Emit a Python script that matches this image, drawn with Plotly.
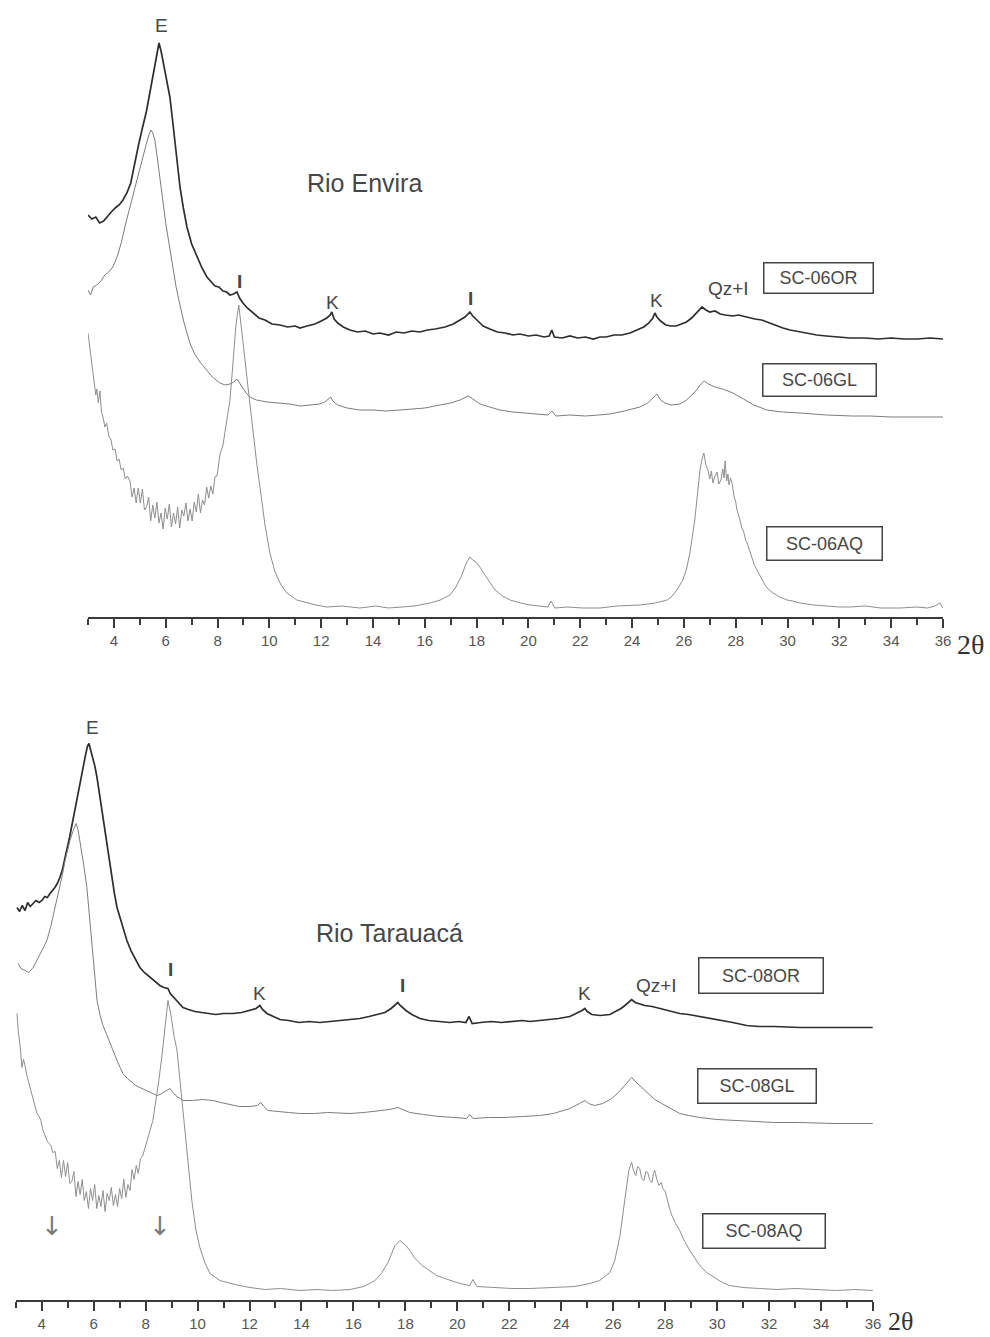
import plotly.graph_objects as go

W, H = 990, 1337           # drawing coordinates (pixels)
FIG_W, FIG_H = 998, 1337   # figure size in CSS pixels

# ---------------- Rio Envira (SC-06) ----------------
tt_06or = [3.00, 3.15, 3.30, 3.45, 3.60, 3.75, 3.90, 4.05, 4.20, 4.35, 4.50, 4.65, 4.80, 4.95, 5.10,
           5.25, 5.40, 5.55, 5.65, 5.74, 5.82, 5.92, 6.05, 6.16, 6.25, 6.35, 6.45, 6.55, 6.68,
           6.82, 7.00, 7.20, 7.40, 7.59, 7.75, 7.90, 8.05, 8.21, 8.35, 8.48, 8.62, 8.75, 8.85,
           8.98, 9.15, 9.37, 9.60, 9.83, 10.10, 10.41, 10.70, 11.00, 11.18, 11.45, 11.76, 12.00,
           12.22, 12.35, 12.41, 12.50, 12.64, 12.85, 13.11, 13.40, 13.70, 14.00, 14.27, 14.60,
           14.90, 15.20, 15.50, 15.81, 16.10, 16.40, 16.78, 17.10, 17.36, 17.55, 17.74, 17.85,
           18.05, 18.25, 18.51, 18.80, 19.10, 19.40, 19.67, 20.00, 20.30, 20.60, 20.80, 20.90,
           21.00, 21.30, 21.60, 21.90, 22.20, 22.50, 22.76, 23.00, 23.30, 23.60, 23.92, 24.20,
           24.45, 24.65, 24.80, 24.88, 24.96, 25.10, 25.30, 25.50, 25.70, 25.90, 26.10, 26.30,
           26.50, 26.70, 26.85, 27.00, 27.20, 27.40, 27.60, 27.89, 28.10, 28.40, 28.74, 29.00,
           29.20, 29.50, 29.82, 30.10, 30.50, 30.80, 31.13, 31.50, 32.00, 32.41, 33.00, 33.50,
           34.00, 34.50, 35.00, 35.50, 36.00]
i_06or = [402, 398, 400, 394, 396, 401, 405, 409, 412, 417, 424, 434, 455, 472, 489,
          505, 526, 548, 563, 574, 566, 553, 535, 520, 500, 477, 452, 430, 409,
          390, 373, 360, 349, 340, 335, 331, 330, 326, 325, 322, 323, 325, 319,
          314, 309, 304, 299, 297, 293, 292, 290, 291, 289, 291, 293, 296,
          299, 302, 305, 298, 294, 290, 287, 285, 286, 283, 284, 282,
          285, 284, 286, 285, 287, 288, 290, 293, 297, 300, 305, 301,
          296, 291, 288, 285, 284, 282, 283, 281, 282, 280, 281, 287,
          280, 279, 281, 279, 280, 278, 280, 280, 282, 282, 284, 287,
          290, 294, 299, 304, 300, 296, 292, 291, 291, 293, 295, 299,
          304, 310, 307, 305, 306, 303, 302, 301, 302, 300, 298, 297,
          295, 292, 289, 287, 285, 283, 282, 281, 280, 279, 279, 278,
          279, 278, 278, 279, 278]

tt_06gl = [3.00, 3.10, 3.20, 3.34, 3.50, 3.65, 3.80, 3.96, 4.15, 4.31, 4.45, 4.62, 4.80, 5.00, 5.12,
           5.24, 5.35, 5.43, 5.50, 5.58, 5.68, 5.78, 5.90, 6.01, 6.15, 6.28, 6.40, 6.55, 6.70,
           6.93, 7.10, 7.32, 7.45, 7.59, 7.80, 8.09, 8.30, 8.48, 8.62, 8.75, 8.85, 8.98, 9.10,
           9.25, 9.50, 9.91, 10.30, 10.79, 11.20, 11.68, 11.95, 12.14, 12.30, 12.37, 12.45, 12.64,
           13.00, 13.49, 14.00, 14.50, 15.04, 15.50, 16.00, 16.58, 17.00, 17.36, 17.67, 17.85,
           18.13, 18.50, 18.90, 19.40, 19.90, 20.40, 20.75, 20.90, 21.06, 21.60, 22.20, 22.70,
           23.14, 23.70, 24.30, 24.60, 24.80, 24.96, 25.10, 25.27, 25.50, 25.85, 26.10, 26.43,
           26.60, 26.78, 26.95, 27.20, 27.50, 27.89, 28.30, 28.70, 29.20, 29.80, 30.48, 31.50,
           32.50, 33.18, 34.00, 35.00, 36.00]
i_06gl = [327, 322, 330, 332, 336, 342, 345, 350, 362, 377, 393, 410, 430, 450, 462,
          472, 482, 487, 484, 477, 458, 437, 413, 392, 370, 350, 330, 312, 295,
          274, 264, 255, 251, 247, 240, 234, 232, 233, 235, 238, 234, 229, 224,
          220, 217, 215, 214, 213, 211, 212, 213, 215, 218, 220, 216, 212,
          209, 207, 207, 206, 207, 208, 209, 212, 214, 217, 221, 218,
          213, 210, 207, 205, 204, 203, 202, 206, 201, 202, 201, 202,
          203, 206, 210, 214, 219, 223, 217, 214, 212, 213, 217, 225,
          231, 236, 233, 230, 228, 224, 218, 212, 207, 205, 204, 202,
          201, 201, 200, 200, 200]

tt_06aq = [3.00, 3.08, 3.15, 3.22, 3.30, 3.34, 3.40, 3.46, 3.52, 3.58, 3.65, 3.72, 3.81, 3.88, 3.96,
           4.05, 4.12, 4.20, 4.28, 4.36, 4.44, 4.52,
           4.62, 4.70, 4.78, 4.86, 4.94, 5.02, 5.10, 5.18, 5.26, 5.34, 5.42, 5.50, 5.58, 5.66,
           5.74, 5.82, 5.90, 5.98, 6.06, 6.14, 6.22, 6.30, 6.38, 6.46, 6.54, 6.62, 6.70, 6.78,
           6.86, 6.94, 7.02, 7.10, 7.18, 7.26, 7.34, 7.42, 7.50, 7.58, 7.66, 7.74, 7.82, 7.90,
           7.98, 8.09, 8.21, 8.36, 8.48, 8.59, 8.71, 8.82, 8.94, 9.06, 9.21, 9.37, 9.52, 9.68,
           9.83, 10.02, 10.22, 10.45, 10.68, 11.06, 11.45, 11.80, 12.22, 12.80, 13.49, 14.10,
           14.60, 15.04, 15.60, 16.20, 16.60, 16.97, 17.20, 17.43, 17.60, 17.74, 17.85, 17.97,
           18.15, 18.32, 18.50, 18.71, 19.00, 19.29, 19.70, 20.06, 20.40, 20.75, 20.87, 21.02,
           21.50, 22.10, 22.76, 23.40, 24.30, 24.90, 25.35, 25.55, 25.73, 25.96, 26.10, 26.23,
           26.42, 26.62, 26.70, 26.77, 26.85, 26.93, 27.00, 27.06, 27.12, 27.20, 27.28, 27.35,
           27.43, 27.50, 27.55, 27.59, 27.65, 27.70, 27.74, 27.80, 27.86, 27.93, 28.00, 28.05,
           28.12, 28.18, 28.24, 28.32, 28.38, 28.44, 28.52, 28.63, 28.72, 28.82, 28.95, 29.05,
           29.13, 29.25, 29.44, 29.70, 29.98, 30.20, 30.48, 31.00, 31.50, 32.00, 32.41, 33.00,
           33.60, 34.34, 35.00, 35.40, 35.69, 35.88, 36.00]
i_06aq = [284, 268, 257, 240, 222, 228, 214, 226, 205, 200, 190, 194, 180, 178, 167,
          168, 156, 158, 147, 149, 138, 141,
          136, 120, 129, 114, 129, 114, 128, 107, 110, 120, 96, 112, 99, 115,
          94, 104, 88, 109, 98, 113, 90, 104, 93, 110, 89, 107, 101, 114,
          96, 108, 96, 115, 105, 123, 104, 117, 112, 130, 119, 131, 123, 140,
          141, 162, 172, 197, 217, 252, 292, 312, 287, 257, 222, 184, 152, 122,
          92, 64, 45, 32, 24, 17, 14, 12, 10, 11, 9, 11,
          9, 10, 11, 14, 17, 22, 30, 42, 54, 60, 57, 55,
          49, 42, 35, 27, 21, 17, 14, 12, 11, 10, 16, 9,
          10, 9, 9, 11, 12, 14, 17, 21, 27, 37, 48, 64,
          97, 147, 158, 164, 152, 147, 138, 146, 134, 141, 145, 133,
          137, 148, 139, 156, 136, 143, 132, 139, 134, 121, 115, 107,
          101, 94, 89, 84, 77, 74, 67, 59, 52, 47, 40, 36,
          32, 28, 24, 20, 17, 16, 14, 12, 11, 10, 10, 11,
          9, 9, 10, 9, 11, 14, 9]

# ---------------- Rio Tarauacá (SC-08) ----------------
tt_08or = [3.05, 3.15, 3.25, 3.36, 3.46, 3.56, 3.67, 3.78, 3.90, 4.01, 4.12, 4.22, 4.32, 4.42, 4.51,
           4.60, 4.70, 4.80, 4.90, 4.97, 5.08, 5.20, 5.30, 5.40, 5.50, 5.59, 5.70, 5.76, 5.82,
           5.88, 5.97, 6.05, 6.13, 6.22, 6.32, 6.42, 6.51, 6.61, 6.71, 6.80, 6.90, 7.05, 7.15,
           7.28, 7.45, 7.60, 7.78, 7.95, 8.17, 8.35, 8.55, 8.70, 8.86, 8.95, 9.05, 9.13, 9.25,
           9.44, 9.65, 9.90, 10.15, 10.36, 10.70, 11.00, 11.36, 11.70, 12.01, 12.25, 12.40,
           12.50, 12.67, 12.90, 13.17, 13.50, 13.90, 14.30, 14.71, 15.10, 15.50, 15.90, 16.25,
           16.60, 16.95, 17.21, 17.45, 17.60, 17.71, 17.80, 18.02, 18.25, 18.56, 18.90, 19.30,
           19.71, 20.05, 20.33, 20.45, 20.57, 20.90, 21.30, 21.70, 22.10, 22.50, 22.80, 23.17,
           23.50, 23.90, 24.33, 24.60, 24.80, 24.91, 25.00, 25.18, 25.50, 25.87, 26.10, 26.30,
           26.45, 26.60, 26.71, 26.85, 27.00, 27.21, 27.50, 27.79, 28.10, 28.56, 28.90, 29.33,
           29.60, 29.83, 30.20, 30.60, 31.14, 31.60, 32.20, 33.18, 34.00, 35.00, 35.99]
i_08or = [392, 388, 394, 389, 397, 393, 396, 399, 397, 399, 403, 402, 406, 409, 412,
          416, 422, 430, 441, 449, 463, 479, 493, 506, 519, 532, 546, 553, 556,
          550, 542, 533, 522, 506, 489, 472, 456, 438, 422, 406, 392, 378, 369,
          359, 348, 340, 332, 327, 322, 318, 314, 312, 311, 306, 303, 301, 297,
          292, 290, 288, 287, 286, 285, 286, 286, 287, 289, 291, 294,
          290, 286, 283, 280, 279, 277, 278, 277, 278, 279, 280, 281,
          283, 285, 287, 291, 294, 297, 294, 289, 285, 281, 279, 278,
          277, 278, 277, 283, 276, 277, 278, 277, 278, 279, 278, 279,
          280, 281, 283, 286, 289, 291, 288, 285, 284, 285, 288, 291,
          294, 297, 300, 297, 296, 294, 293, 291, 289, 286, 285, 283,
          282, 281, 279, 277, 274, 273, 273, 272, 272, 272, 272]

tt_08gl = [3.09, 3.20, 3.36, 3.50, 3.67, 3.80, 3.93, 4.05, 4.20, 4.35, 4.47, 4.58, 4.70, 4.80, 4.90,
           5.00, 5.09, 5.20, 5.28, 5.32, 5.40, 5.51, 5.62, 5.74, 5.84, 5.94, 6.04, 6.13, 6.25,
           6.36, 6.50, 6.63, 6.77, 6.90, 7.02, 7.13, 7.30, 7.47, 7.62, 7.78, 8.10, 8.44, 8.56,
           8.67, 8.80, 8.94, 9.05, 9.21, 9.44, 9.80, 10.20, 10.59, 10.90, 11.20, 11.60, 12.02,
           12.30, 12.44, 12.55, 12.71, 13.00, 13.50, 13.94, 14.50, 15.00, 15.50, 15.87, 16.40,
           17.02, 17.40, 17.71, 17.90, 18.17, 18.70, 19.30, 19.90, 20.36, 20.48, 20.60, 21.20,
           21.80, 22.50, 23.17, 23.70, 24.33, 24.70, 24.91, 25.05, 25.29, 25.60, 25.95, 26.20,
           26.45, 26.60, 26.71, 26.85, 27.02, 27.20, 27.41, 27.60, 27.87, 28.20, 28.56, 28.90,
           29.33, 30.00, 30.60, 31.25, 32.20, 33.18, 34.50, 35.99]
i_08gl = [336, 331, 329, 327, 332, 338, 344, 351, 359, 373, 387, 399, 412, 425, 439,
          450, 459, 468, 474, 476, 470, 454, 434, 412, 383, 354, 325, 299, 284,
          274, 265, 256, 247, 239, 232, 226, 221, 217, 214, 212, 208, 204, 205,
          207, 209, 211, 207, 203, 199, 199, 200, 199, 197, 195, 193, 193,
          194, 197, 193, 189, 188, 187, 186, 186, 187, 186, 186, 187,
          189, 190, 192, 190, 187, 185, 183, 182, 181, 185, 181, 182,
          182, 183, 184, 186, 191, 196, 199, 196, 194, 196, 201, 207,
          214, 219, 222, 218, 214, 209, 204, 200, 196, 191, 186, 184,
          182, 180, 179, 178, 177, 177, 176, 176]

tt_08aq = [3.05, 3.10, 3.17, 3.24, 3.30, 3.36, 3.43, 3.49, 3.55, 3.62, 3.70, 3.76, 3.82, 3.90, 3.97,
           4.03, 4.09, 4.15, 4.20, 4.28, 4.36, 4.42,
           4.52, 4.60, 4.68, 4.76, 4.84, 4.92, 5.00, 5.08, 5.16, 5.24, 5.32, 5.40, 5.48, 5.56,
           5.64, 5.72, 5.80, 5.88, 5.96, 6.04, 6.12, 6.20, 6.28, 6.36, 6.44, 6.52, 6.60, 6.68,
           6.76, 6.84, 6.92, 7.00, 7.08, 7.16, 7.24, 7.32, 7.40, 7.48, 7.56, 7.64, 7.72, 7.80,
           7.88, 7.96, 8.05, 8.17, 8.28, 8.40, 8.51, 8.63, 8.75, 8.86, 8.98, 9.09, 9.21, 9.32,
           9.44, 9.59, 9.78, 9.94, 10.09, 10.28, 10.48, 10.86, 11.25, 11.60, 12.02, 12.60,
           13.20, 13.94, 14.60, 15.20, 15.87, 16.40, 16.83, 17.10, 17.33, 17.60, 17.79, 18.02,
           18.20, 18.37, 18.65, 18.94, 19.20, 19.52, 20.10, 20.48, 20.60, 20.75, 21.40, 22.10,
           22.79, 23.60, 24.52, 25.10, 25.48, 25.87, 26.06, 26.26, 26.45, 26.55, 26.60, 26.66,
           26.71, 26.78, 26.87, 26.94, 27.02, 27.10, 27.18, 27.26, 27.33, 27.40, 27.49, 27.55,
           27.60, 27.68, 27.76, 27.85, 27.92, 27.99, 28.10, 28.18, 28.26, 28.40, 28.56, 28.75,
           28.95, 29.15, 29.33, 29.60, 29.91, 30.20, 30.48, 31.00, 31.64, 32.30, 33.00, 33.95,
           34.60, 35.30, 35.99]
i_08aq = [286, 268, 254, 232, 240, 234, 224, 218, 212, 206, 199, 193, 186, 183, 179,
          171, 167, 163, 159, 156, 154, 147,
          148, 131, 139, 122, 139, 123, 137, 116, 118, 128, 103, 118, 105, 120,
          99, 108, 91, 111, 99, 115, 91, 104, 93, 109, 88, 106, 99, 112,
          94, 105, 93, 111, 101, 120, 102, 115, 109, 130, 120, 134, 126, 141,
          143, 150, 159, 169, 179, 199, 219, 244, 272, 299, 284, 264, 249, 219,
          192, 149, 99, 69, 52, 37, 26, 19, 16, 14, 12, 10,
          11, 9, 10, 9, 10, 13, 19, 27, 37, 54, 59, 54,
          48, 41, 34, 29, 24, 21, 16, 14, 20, 13, 12, 11,
          11, 12, 13, 16, 19, 27, 39, 64, 99, 120, 129, 134,
          137, 129, 124, 133, 131, 121, 119, 128, 127, 120, 117, 126,
          129, 120, 114, 117, 110, 109, 97, 90, 84, 76, 69, 58,
          49, 41, 34, 27, 22, 17, 14, 12, 11, 10, 11, 10,
          9, 10, 9]

# x-axis ticks (degrees 2θ)
major_ticks = list(range(4, 37, 2))

INK = "#3a3a3a"
TXT = "#474747"
FONT = "Liberation Sans"


def px_x(px):
    return px / W


def px_y(py):
    return 1 - py / H


fig = go.Figure()

series = [
    ("x", "y", tt_06or, i_06or, "#2e2e2e", 1.7, "SC-06OR"),
    ("x", "y", tt_06gl, i_06gl, "#7d7d7d", 1.0, "SC-06GL"),
    ("x", "y", tt_06aq, i_06aq, "#8e8e8e", 1.0, "SC-06AQ"),
    ("x2", "y2", tt_08or, i_08or, "#2e2e2e", 1.7, "SC-08OR"),
    ("x2", "y2", tt_08gl, i_08gl, "#7d7d7d", 1.0, "SC-08GL"),
    ("x2", "y2", tt_08aq, i_08aq, "#8e8e8e", 1.0, "SC-08AQ"),
]
for xa, ya, xs, ys, col, lw, name in series:
    fig.add_trace(go.Scatter(x=xs, y=ys, xaxis=xa, yaxis=ya, mode="lines", name=name,
                             line=dict(color=col, width=lw), showlegend=False,
                             hoverinfo="skip"))


def xaxis_cfg(dom):
    return dict(domain=dom, range=[3, 36], showgrid=False, zeroline=False,
                showline=True, linecolor=INK, linewidth=2,
                tickmode="array", tickvals=major_ticks, ticktext=[str(v) for v in major_ticks],
                ticks="outside", ticklen=9, tickwidth=2, tickcolor=INK,
                minor=dict(tickmode="linear", tick0=3, dtick=1, ticks="outside",
                           ticklen=6, tickwidth=1.5, tickcolor=INK),
                tickfont=dict(family=FONT, size=15, color="#555555"),
                fixedrange=True)


fig.update_layout(
    width=FIG_W, height=FIG_H, autosize=False, margin=dict(l=0, r=0, t=0, b=0),
    paper_bgcolor="white", plot_bgcolor="white",
    xaxis=dict(xaxis_cfg([px_x(88), px_x(943)]), anchor="y"),
    yaxis=dict(domain=[px_y(617), 1.0], range=[0, 617], visible=False, fixedrange=True),
    xaxis2=dict(xaxis_cfg([px_x(15.7), px_x(873)]), anchor="y2"),
    yaxis2=dict(domain=[px_y(1299.5), px_y(649.5)], range=[0, 650],
                visible=False, fixedrange=True, anchor="x2"),
)

ann = []


def label(xr, yr, x, y, text, size=19, fam=FONT, color=TXT):
    ann.append(dict(xref=xr, yref=yr, x=x, y=y, text=text, showarrow=False,
                    font=dict(family=fam, size=size, color=color),
                    xanchor="center", yanchor="middle"))


def box(xr, yr, x, y, text, w, h):
    ann.append(dict(xref=xr, yref=yr, x=x, y=y, text=text, showarrow=False,
                    font=dict(family=FONT, size=18, color=TXT),
                    xanchor="center", yanchor="middle", width=w, height=h,
                    bordercolor="#444444", borderwidth=1.5, borderpad=0,
                    bgcolor="white"))


# peak labels, Rio Envira
label("x", "y", 5.85, 592, "E")
label("x", "y", 8.83, 336, "<b>I</b>")
label("x", "y", 12.45, 315, "K")
label("x", "y", 17.78, 319, "<b>I</b>")
label("x", "y", 24.96, 317, "K")
label("x", "y", 27.73, 329, "Qz+I")
label("x", "y", 13.69, 434, "Rio Envira", size=25)
box("x", "y", 31.21, 339, "SC-06OR", 108, 29)
box("x", "y", 31.25, 237, "SC-06GL", 112, 31)
box("x", "y", 31.41, 74, "SC-06AQ", 114, 32)

# peak labels, Rio Tarauacá
label("x2", "y2", 5.94, 572, "E")
label("x2", "y2", 8.94, 330, "<b>I</b>")
label("x2", "y2", 12.40, 306, "K")
label("x2", "y2", 17.90, 314, "<b>I</b>")
label("x2", "y2", 24.91, 306, "K")
label("x2", "y2", 27.68, 314, "Qz+I")
label("x2", "y2", 17.40, 367, "Rio Tarauacá", size=25)
box("x2", "y2", 31.67, 324, "SC-08OR", 123, 34)
box("x2", "y2", 31.52, 214, "SC-08GL", 117, 33)
box("x2", "y2", 31.79, 69, "SC-08AQ", 121, 33)

# markers under the low-angle region of SC-08AQ
label("x2", "y2", 4.40, 74, "↓", size=26, fam="DejaVu Sans", color="#7a7a7a")
label("x2", "y2", 8.55, 74, "↓", size=26, fam="DejaVu Sans", color="#7a7a7a")

# axis titles (2θ)
ann.append(dict(xref="paper", yref="paper", x=px_x(986), y=px_y(645), text="2θ",
                showarrow=False, xanchor="right", yanchor="middle",
                font=dict(family="Liberation Serif", size=28, color="#333333")))
ann.append(dict(xref="paper", yref="paper", x=px_x(915), y=px_y(1321), text="2θ",
                showarrow=False, xanchor="right", yanchor="middle",
                font=dict(family="Liberation Serif", size=26, color="#333333")))

fig.update_layout(annotations=ann)

fig.write_html("out.html", config={"responsive": False})
